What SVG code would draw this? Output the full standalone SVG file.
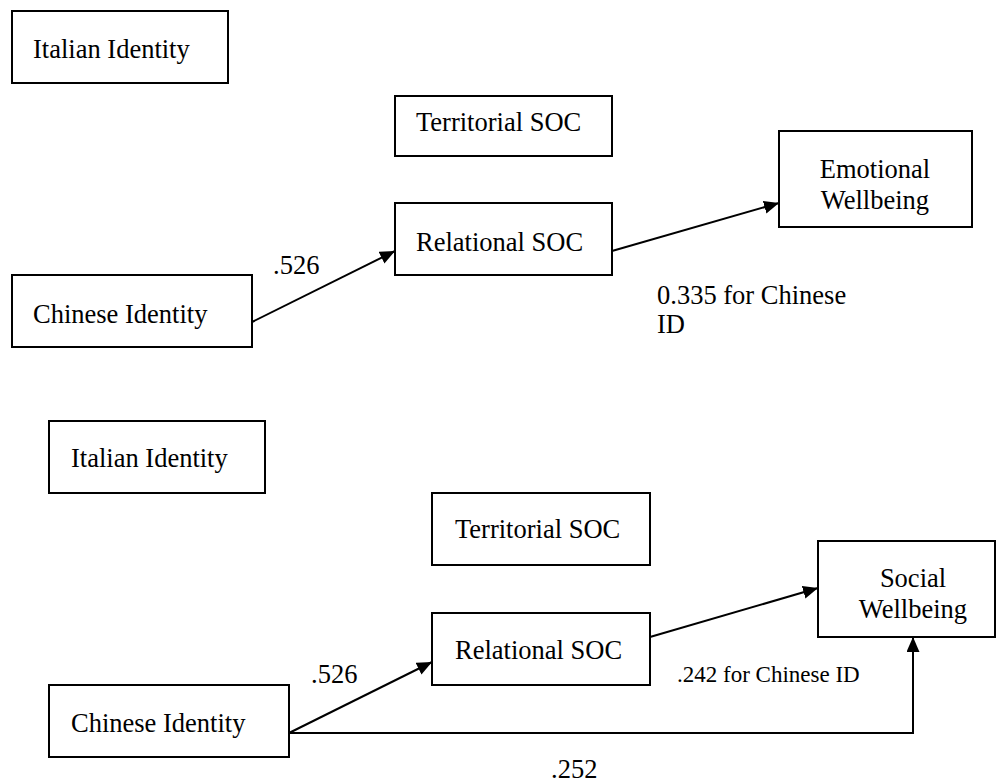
<svg xmlns="http://www.w3.org/2000/svg" width="997" height="783" viewBox="0 0 997 783">
<style>
.box{fill:#fff;stroke:#000;stroke-width:2}
.t{font-family:"Liberation Serif","Times New Roman",serif;font-size:26.5px;fill:#000}
.s{font-family:"Liberation Serif","Times New Roman",serif;font-size:23px;fill:#000}
.c{text-anchor:middle}
.e{fill:none;stroke:#000;stroke-width:2}
</style>
<defs>
<marker id="ah" markerUnits="userSpaceOnUse" markerWidth="16" markerHeight="14" refX="15" refY="6.5" orient="auto">
<path d="M0,0 L15,6.5 L0,13 z" fill="#000"/>
</marker>
</defs>
<rect width="997" height="783" fill="#fff"/>
<g id="connectors">
<line class="e" x1="252" y1="322" x2="395" y2="251" marker-end="url(#ah)"/>
<line class="e" x1="612" y1="251" x2="779" y2="203" marker-end="url(#ah)"/>
<line class="e" x1="289" y1="733" x2="432" y2="662" marker-end="url(#ah)"/>
<line class="e" x1="650" y1="637" x2="818" y2="588" marker-end="url(#ah)"/>
<polyline class="e" points="289,733 913,733 913,637" marker-end="url(#ah)"/>
</g>
<g id="labels">
<text class="t" x="273" y="274">.526</text>
<text class="t" x="657" y="304">0.335 for Chinese</text>
<text class="t" x="657" y="333">ID</text>
<text class="t" x="311" y="683">.526</text>
<text class="s" x="677" y="682">.242 for Chinese ID</text>
<text class="t" x="551" y="778">.252</text>
</g>
<g id="italian1"><rect class="box" x="12" y="11" width="216" height="72"/><text class="t" x="33" y="58">Italian Identity</text></g>
<g id="territorial1"><rect class="box" x="395" y="96" width="217" height="60"/><text class="t" x="416" y="131">Territorial SOC</text></g>
<g id="relational1"><rect class="box" x="395" y="203" width="217" height="72"/><text class="t" x="416" y="251">Relational SOC</text></g>
<g id="emotional"><rect class="box" x="779" y="131" width="193" height="96"/><text class="t c" x="875" y="178">Emotional</text><text class="t c" x="875" y="209">Wellbeing</text></g>
<g id="chinese1"><rect class="box" x="12" y="275" width="240" height="72"/><text class="t" x="33" y="323">Chinese Identity</text></g>
<g id="italian2"><rect class="box" x="49" y="421" width="216" height="72"/><text class="t" x="71" y="467">Italian Identity</text></g>
<g id="territorial2"><rect class="box" x="432" y="493" width="218" height="72"/><text class="t" x="455" y="538">Territorial SOC</text></g>
<g id="relational2"><rect class="box" x="432" y="613" width="218" height="72"/><text class="t" x="455" y="659">Relational SOC</text></g>
<g id="social"><rect class="box" x="818" y="541" width="177" height="96"/><text class="t c" x="913" y="587">Social</text><text class="t c" x="913" y="618">Wellbeing</text></g>
<g id="chinese2"><rect class="box" x="49" y="685" width="240" height="72"/><text class="t" x="71" y="732">Chinese Identity</text></g>
</svg>
